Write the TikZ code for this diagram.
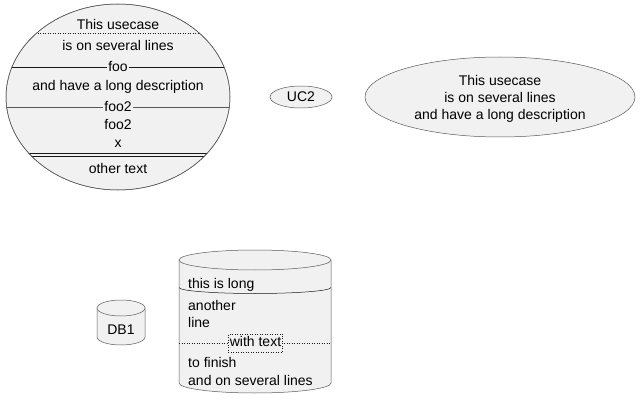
\documentclass[tikz,border=0pt]{standalone}
\usepackage{fontspec}
\setmainfont{Liberation Sans}
\definecolor{shapefill}{HTML}{F1F1F1}
\definecolor{shapeline}{HTML}{181818}
\colorlet{borderline}{black!65}
\tikzset{
    % --- shapes ---
    shape_body/.style={fill=shapefill, draw=borderline, line width=0.5pt},
    sep_line/.style={draw=shapeline, line width=0.5pt},
    % --- texts ---
    txt/.style={inner sep=0pt, text height=10pt, text depth=3pt, yshift=-1.5pt,
                font=\fontsize{14}{17}\selectfont},
    sep_txt/.style={txt, fill=shapefill, inner xsep=1pt}
}

\begin{document}
\begin{tikzpicture}[x=1pt,y=-1pt]
    \useasboundingbox (0,0) rectangle (641,412);

    % usecase with separators
    \filldraw[shape_body] (118,97) ellipse (112 and 93);
    \begin{scope}
        \clip (118,97) ellipse (112 and 93);
        \draw[sep_line, dotted] (0,33.5) -- (240,33.5);
        \draw[sep_line, line width=0.9pt] (0,67) -- (240,67);
        \draw[sep_line, draw=borderline] (0,107) -- (240,107);
        \draw[sep_line] (0,153.5) -- (240,153.5);
        \draw[sep_line] (0,156.5) -- (240,156.5);
    \end{scope}
    \draw[shape_body, fill=none] (118,97) ellipse (112 and 93);

    \node[txt] (ucOne) at (118,25) {This usecase};
    \node[txt] (ucTwo) at (118,46) {is on several lines};
    \node[sep_txt] (ucFoo) at (118,67) {foo};
    \node[txt] (ucThree) at (118,86) {and have a long description};
    \node[sep_txt] (ucFooA) at (118,107) {foo2};
    \node[txt] (ucFooB) at (118,125) {foo2};
    \node[txt] (ucX) at (118,143) {x};
    \node[txt] (ucOther) at (118,168) {other text};

    % small usecase
    \filldraw[shape_body] (301,97) ellipse (31 and 11);
    \node[txt] (uc2) at (301,97) {UC2};

    % usecase on several lines
    \filldraw[shape_body] (500,97) ellipse (135 and 40);
    \node[txt, align=center, text height=, text depth=] (ucLong) at (500,97)
        {This usecase\\is on several lines\\and have a long description};

    % small database
    \filldraw[shape_body] (97,308) -- (97,337)
        arc[start angle=180, end angle=0, x radius=24, y radius=8] -- (145,308) -- cycle;
    \filldraw[shape_body] (121,308) ellipse (24 and 8);
    \node[txt] (db1) at (121,329) {DB1};

    % database with separators
    \filldraw[shape_body] (179,260) -- (179,383)
        arc[start angle=180, end angle=0, x radius=76, y radius=10] -- (331,260) -- cycle;
    \filldraw[shape_body] (255,260) ellipse (76 and 10);
    \draw[sep_line] (179,287.5) arc[start angle=180, end angle=0, x radius=76, y radius=6];
    \draw[sep_line, dotted] (179,343) -- (331,343);

    \node[txt, anchor=west, yshift=1pt] (dbLong) at (188,284) {this is long};
    \node[txt, anchor=west] (dbAnother) at (188,305) {another};
    \node[txt, anchor=west] (dbLine) at (188,322) {line};
    \node[sep_txt, draw=shapeline, dotted, line width=0.5pt, inner xsep=1.5pt,
          minimum height=18pt, yshift=1.5pt] (dbWith) at (255.5,343) {with text};
    \node[txt, anchor=west] (dbFinish) at (188,362) {to finish};
    \node[txt, anchor=west] (dbSeveral) at (188,380) {and on several lines};
\end{tikzpicture}
\end{document}
